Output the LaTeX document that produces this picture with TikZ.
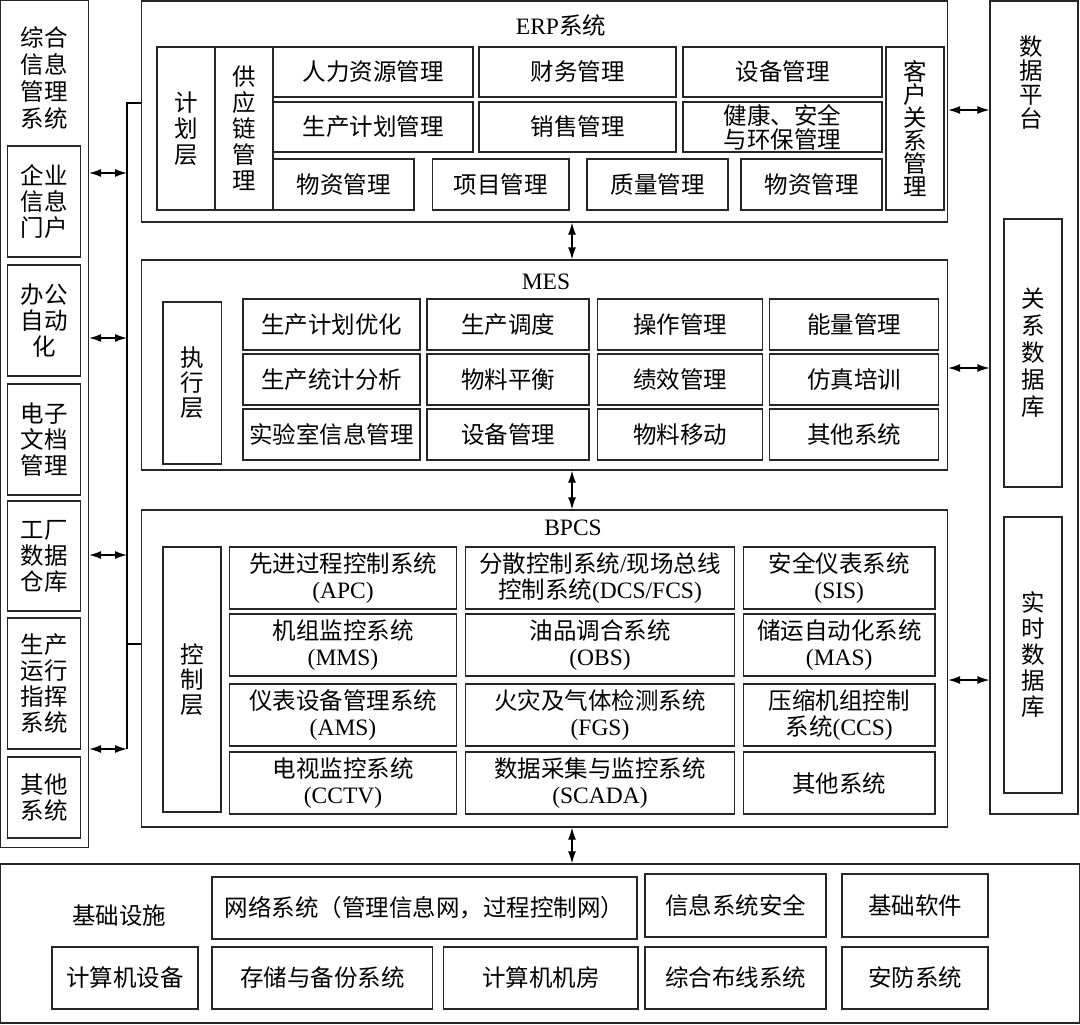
\documentclass[tikz,border=0pt]{standalone}
\usepackage{fontspec}
\setmainfont{Noto Sans CJK SC}
\newfontfamily\lat{Liberation Serif}
\usepackage{tikz}
\usetikzlibrary{positioning,arrows.meta}
\newcommand\fs{\fontsize{23.5}{26}\selectfont}
\tikzset{every picture/.style={line width=1.3pt}}

\begin{document}
\begin{tikzpicture}[x=1pt, y=-1pt, >={Latex[length=12pt,width=8pt]},
    box/.style={draw=black!85, rectangle, inner sep=0pt, align=center, font=\fs},
    cell/.style={box, minimum height=50pt},
    lbl/.style={inner sep=0pt, align=center, font=\fs}]
    \useasboundingbox (0,0) rectangle (1080,1025);

    % Left column: integrated information management
    \node[box, minimum width=88pt, minimum height=847pt] (info) at (44.5,424) {};
    \node[lbl, font=\fontsize{23.5}{27}\selectfont] (infot) at (44,78) {综合\\信息\\管理\\系统};
    \node[box, minimum width=73pt, minimum height=111pt] (portal) at (44.3,201.5) {企业\\信息\\门户};
    \node[box, minimum width=73pt, minimum height=111pt] (oa) at (44.3,320.5) {办公\\自动\\化};
    \node[box, minimum width=73pt, minimum height=111pt] (edoc) at (44.3,439.5) {电子\\文档\\管理};
    \node[box, minimum width=73pt, minimum height=110pt] (dw) at (44.3,556) {工厂\\数据\\仓库};
    \node[box, minimum width=73pt, minimum height=131pt] (cmd) at (44.3,683.5) {生产\\运行\\指挥\\系统};
    \node[box, minimum width=73pt, minimum height=81pt] (others) at (44.3,797.5) {其他\\系统};

    % ERP layer
    \node[box, minimum width=806pt, minimum height=221pt] (erp) at (544.5,111.5) {};
    \node[lbl] (erpt) at (561,25) {{\lat ERP}系统};
    \node[box, minimum width=58pt, minimum height=163pt] (plan) at (186,128.5) {计\\划\\层};
    \node[box, minimum width=58pt, minimum height=163pt] (scm) at (244,128.5) {供\\应\\链\\管\\理};
    \node[cell, minimum width=200pt] (hr) at (373,72) {人力资源管理};
    \node[cell, minimum width=197pt] (fin) at (577.5,72) {财务管理};
    \node[cell, minimum width=199pt] (eqp) at (782.5,72) {设备管理};
    \node[cell, minimum width=200pt] (pp) at (373,127) {生产计划管理};
    \node[cell, minimum width=197pt] (sales) at (577.5,127) {销售管理};
    \node[cell, minimum width=199pt, font=\fontsize{23.5}{24}\selectfont] (hse) at (782.5,127) {健康、安全\\与环保管理};
    \node[cell, minimum width=141pt, minimum height=51pt] (mat) at (343.5,184.5) {物资管理};
    \node[cell, minimum width=136.5pt, minimum height=51pt] (proj) at (500.75,184.5) {项目管理};
    \node[cell, minimum width=141pt, minimum height=51pt] (qual) at (657.5,184.5) {质量管理};
    \node[cell, minimum width=141pt, minimum height=51pt] (matb) at (811.5,184.5) {物资管理};
    \node[box, minimum width=58pt, minimum height=163pt, font=\fontsize{23.5}{23}\selectfont] (crm) at (915,128.5) {客\\户\\关\\系\\管\\理};

    % MES layer
    \node[box, minimum width=806pt, minimum height=210pt] (mes) at (544.5,365) {};
    \node[lbl] (mest) at (546,282) {\lat MES};
    \node[box, minimum width=58.5pt, minimum height=162pt, font=\fontsize{23.5}{25}\selectfont] (exec) at (192.25,383) {执\\行\\层};
    \node[cell, minimum width=177pt, minimum height=51pt] (ppo) at (331.5,324.5) {生产计划优化};
    \node[cell, minimum width=162pt, minimum height=51pt] (sched) at (508,324.5) {生产调度};
    \node[cell, minimum width=165pt, minimum height=51pt] (oper) at (680,324.5) {操作管理};
    \node[cell, minimum width=169pt, minimum height=51pt] (energy) at (854,324.5) {能量管理};
    \node[cell, minimum width=177pt, minimum height=51pt] (stat) at (331.5,379.5) {生产统计分析};
    \node[cell, minimum width=162pt, minimum height=51pt] (bal) at (508,379.5) {物料平衡};
    \node[cell, minimum width=165pt, minimum height=51pt] (perf) at (680,379.5) {绩效管理};
    \node[cell, minimum width=169pt, minimum height=51pt] (sim) at (854,379.5) {仿真培训};
    \node[cell, minimum width=177pt, minimum height=51pt] (lims) at (331.5,434.5) {实验室信息管理};
    \node[cell, minimum width=162pt, minimum height=51pt] (meqp) at (508,434.5) {设备管理};
    \node[cell, minimum width=165pt, minimum height=51pt] (move) at (680,434.5) {物料移动};
    \node[cell, minimum width=169pt, minimum height=51pt] (mother) at (854,434.5) {其他系统};

    % BPCS layer
    \node[box, minimum width=806pt, minimum height=317pt] (bpcs) at (544.5,668.5) {};
    \node[lbl] (bpcst) at (573,528) {\lat BPCS};
    \node[box, minimum width=58pt, minimum height=265pt, font=\fontsize{23.5}{25}\selectfont] (ctrl) at (192,679.5) {控\\制\\层};
    \node[cell, minimum width=227pt, minimum height=62pt] (apc) at (343,578) {先进过程控制系统\\{\lat (APC)}};
    \node[cell, minimum width=269pt, minimum height=62pt] (dcs) at (600,578) {分散控制系统{\lat /}现场总线\\控制系统{\lat (DCS/FCS)}};
    \node[cell, minimum width=191.5pt, minimum height=62pt] (sis) at (839.25,578) {安全仪表系统\\{\lat (SIS)}};
    \node[cell, minimum width=227pt, minimum height=62pt] (mms) at (343,645) {机组监控系统\\{\lat (MMS)}};
    \node[cell, minimum width=269pt, minimum height=62pt] (obs) at (600,645) {油品调合系统\\{\lat (OBS)}};
    \node[cell, minimum width=191.5pt, minimum height=62pt] (mas) at (839.25,645) {储运自动化系统\\{\lat (MAS)}};
    \node[cell, minimum width=227pt, minimum height=62pt] (ams) at (343,715) {仪表设备管理系统\\{\lat (AMS)}};
    \node[cell, minimum width=269pt, minimum height=62pt] (fgs) at (600,715) {火灾及气体检测系统\\{\lat (FGS)}};
    \node[cell, minimum width=191.5pt, minimum height=62pt] (ccs) at (839.25,715) {压缩机组控制\\系统{\lat (CCS)}};
    \node[cell, minimum width=227pt, minimum height=62pt] (cctv) at (343,783) {电视监控系统\\{\lat (CCTV)}};
    \node[cell, minimum width=269pt, minimum height=62pt] (scada) at (600,783) {数据采集与监控系统\\{\lat (SCADA)}};
    \node[cell, minimum width=191.5pt, minimum height=62pt] (bother) at (839.25,783) {其他系统};

    % Right column: data platform
    \node[box, minimum width=88pt, minimum height=813pt] (dp) at (1034,407.5) {};
    \node[lbl, font=\fontsize{23.5}{24}\selectfont] (dpt) at (1031,83) {数\\据\\平\\台};
    \node[box, minimum width=58pt, minimum height=268pt, font=\fontsize{23.5}{27}\selectfont] (rdb) at (1033,353) {关\\系\\数\\据\\库};
    \node[box, minimum width=58pt, minimum height=276pt] (rtdb) at (1033,655) {实\\时\\数\\据\\库};

    % Infrastructure
    \node[box, minimum width=1079pt, minimum height=159pt] (infra) at (540,943.5) {};
    \node[lbl] (infrat) at (119,916) {基础设施};
    \node[cell, minimum width=425pt, minimum height=62pt] (net) at (424.5,908) {网络系统（管理信息网，过程控制网）};
    \node[cell, minimum width=181pt, minimum height=63pt] (isec) at (735.5,905.5) {信息系统安全};
    \node[cell, minimum width=146pt, minimum height=63pt] (soft) at (915,905.5) {基础软件};
    \node[cell, minimum width=146pt, minimum height=62pt] (pc) at (125,978) {计算机设备};
    \node[cell, minimum width=220.5pt, minimum height=62pt] (stor) at (322.25,978) {存储与备份系统};
    \node[cell, minimum width=194.5pt, minimum height=62pt] (room) at (540.75,978) {计算机机房};
    \node[cell, minimum width=181pt, minimum height=62pt] (cable) at (735.5,978) {综合布线系统};
    \node[cell, minimum width=146pt, minimum height=62pt] (guard) at (915,978) {安防系统};

    % Bus on the left
    \coordinate (btop) at (127,103);
    \coordinate (bjoin) at (127,644);
    \coordinate (ba) at (127,173);
    \coordinate (bb) at (127,338);
    \coordinate (bc) at (127,555);
    \coordinate (bd) at (127,749);
    \draw (erp.west |- btop) -- (btop) -- (bd);
    \draw (bjoin) -- (bpcs.west |- bjoin);

    % Connections
    \draw[<->] (info.east |- ba) -- (ba);
    \draw[<->] (info.east |- bb) -- (bb);
    \draw[<->] (info.east |- bc) -- (bc);
    \draw[<->] (info.east |- bd) -- (bd);
    \coordinate (vx) at (572,0);
    \draw[<->] (erp.south -| vx) -- (mes.north -| vx);
    \draw[<->] (mes.south -| vx) -- (bpcs.north -| vx);
    \draw[<->] (bpcs.south -| vx) -- (infra.north -| vx);
    \coordinate (ra) at (990,110);
    \coordinate (rb) at (990,368);
    \coordinate (rc) at (990,680);
    \draw[<->] (erp.east |- ra) -- (dp.west |- ra);
    \draw[<->] (mes.east |- rb) -- (dp.west |- rb);
    \draw[<->] (bpcs.east |- rc) -- (dp.west |- rc);
\end{tikzpicture}
\end{document}
